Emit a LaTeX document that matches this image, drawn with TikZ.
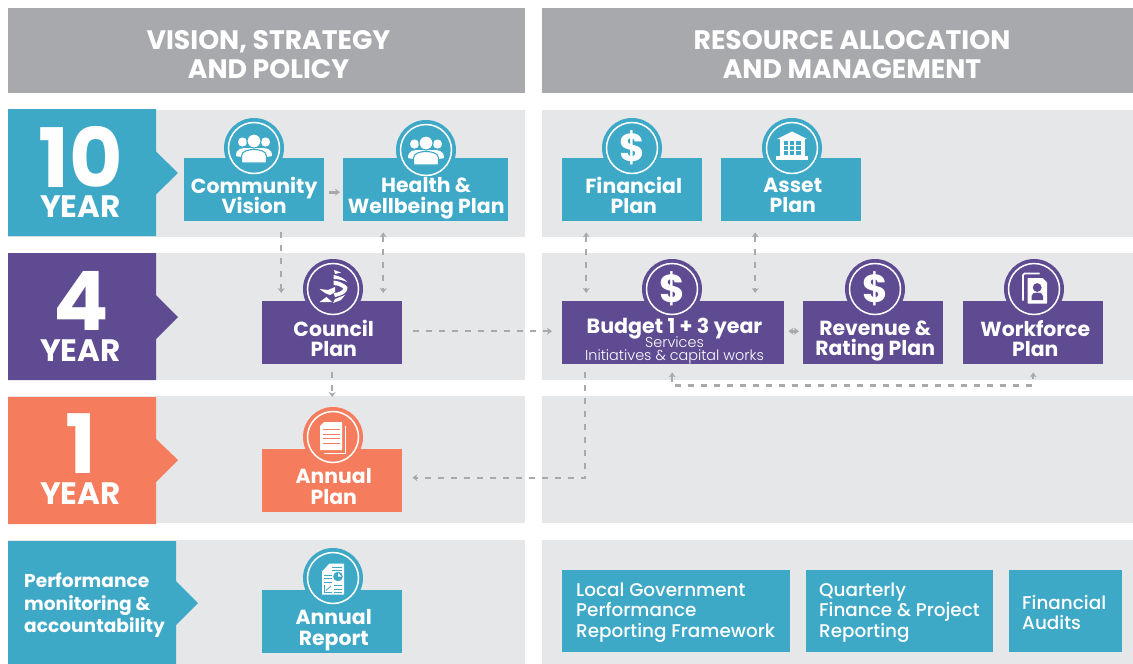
\documentclass[tikz,border=0pt]{standalone}
\usepackage{fontspec}
\setmainfont{Poppins}
\newfontfamily\popmed{Poppins Medium}
\newfontfamily\poplight{Poppins Light}
\usetikzlibrary{arrows.meta,calc}
\definecolor{teal1}{HTML}{3EA8C7}
\definecolor{purp1}{HTML}{5E4B92}
\definecolor{oran1}{HTML}{F57C5C}
\definecolor{panel1}{HTML}{E6E7E9}
\definecolor{head1}{HTML}{A7A9AC}
\definecolor{conn1}{HTML}{A7A9AC}
\newcommand{\fs}[2]{\fontsize{#1}{#2}\selectfont\lineskiplimit=-30pt\relax}
\newcommand{\stt}{\vphantom{Ayg}}
\tikzset{
  x=1pt,y=-1pt,
  panelbox/.style={fill=panel1,draw=none},
  headtxt/.style={text=white,align=center,font=\fs{26.7}{29.5}\bfseries,execute at begin node=\stt,execute at end node=\stt},
  plantxt/.style={text=white,align=center,font=\fs{20.4}{20.5}\bfseries,inner sep=0pt,execute at begin node=\stt,execute at end node=\stt},
  planbox/.style={fill=#1,draw=none,inner sep=0pt,minimum height=63pt},
  bottxt/.style={text=white,align=left,anchor=west,inner sep=0pt,font=\fs{18.4}{20.5}\popmed,execute at begin node=\stt,execute at end node=\stt},
  dashconn/.style={draw=conn1,line width=2.4pt,dash pattern=on 6pt off 7pt},
  solconn/.style={draw=conn1,line width=2.6pt},
  tip/.style={-{Stealth[length=5pt,width=7pt]}},
  tiptip/.style={{Stealth[length=5pt,width=7pt]}-{Stealth[length=5pt,width=7pt]}},
}
% #1 colour #2 name #3 x-left #4 width #5 y-top #6 text #7 circle cx #8 circle cy #9 text dx
\newcommand{\plan}[9]{%
  \fill[#1] (#7,#8) circle[radius=30pt];
  \node[planbox=#1,minimum width=#4pt,anchor=north west] (#2) at (#3,#5) {};
  \node[plantxt] (#2t) at ($(#2.center)+(#9,8.5)$) {#6};
  \draw[white,line width=1.5pt] (#7,#8) circle[radius=25.5pt];
}
\newcommand{\iconpeople}[3]{%
 \begin{scope}[shift={(#1,#2)}]
  \fill[white] (-11.5,-6) circle[radius=4.6pt] (11.5,-6) circle[radius=4.6pt];
  \fill[white] (-18,8) .. controls (-18,0) and (-12,0) .. (-6,0) -- (6,0) .. controls (12,0) and (18,0) .. (18,8) .. controls (12,10) and (-12,10) .. (-18,8) -- cycle;
  \fill[white,draw=#3,line width=1.1pt] (0,-7) circle[radius=7pt];
  \fill[white,draw=#3,line width=1.1pt] (-12.5,15) -- (-12.5,8) .. controls (-12.5,3) and (-5,1.5) .. (0,1.5) .. controls (5,1.5) and (12.5,3) .. (12.5,8) -- (12.5,15) -- cycle;
 \end{scope}}
\newcommand{\icondollar}[2]{%
  \node[text=white,inner sep=0pt,font=\fs{39}{39}\bfseries] at (#1,#2) {\$};}
\begin{document}
\begin{tikzpicture}
\useasboundingbox (0,0) rectangle (1133,664);
\fill[white] (0,0) rectangle (1133,664);
% headers
\fill[head1] (8,8) rectangle (525,93);
\fill[head1] (542,8) rectangle (1133,93);
\node[headtxt] (hl) at (268.5,58) {VISION, STRATEGY\\AND POLICY};
\node[headtxt] (hr) at (852,58) {RESOURCE ALLOCATION\\AND MANAGEMENT};
% panels
\fill[panelbox] (8,110) rectangle (525,237);
\fill[panelbox] (8,253) rectangle (525,380);
\fill[panelbox] (8,396) rectangle (525,523);
\fill[panelbox] (8,540) rectangle (525,664);
\fill[panelbox] (542,110) rectangle (1133,237);
\fill[panelbox] (542,253) rectangle (1133,380);
\fill[panelbox] (542,396) rectangle (1133,523);
\fill[panelbox] (542,540) rectangle (1133,664);
% year tabs
\fill[teal1] (8,109) -- (156,109) -- (156,151.5) -- (178,173) -- (156,194.5) -- (156,236) -- (8,236) -- cycle;
\fill[purp1] (8,253) -- (156,253) -- (156,295) -- (178,317) -- (156,339) -- (156,380) -- (8,380) -- cycle;
\fill[oran1] (8,397) -- (156,397) -- (156,439) -- (178,460) -- (156,482) -- (156,524) -- (8,524) -- cycle;
\fill[teal1] (8,541) -- (176,541) -- (176,581) -- (198,603) -- (176,625) -- (176,664) -- (8,664) -- cycle;
\node[text=white,inner sep=0pt,font=\fs{82}{82}\bfseries] (y10) at (80.5,157) {10};
\node[text=white,inner sep=0pt,font=\fs{31}{31}\bfseries] (y10b) at (80.5,206.5) {YEAR};
\node[text=white,inner sep=0pt,font=\fs{82}{82}\bfseries] (y4) at (81.5,301) {4};
\node[text=white,inner sep=0pt,font=\fs{31}{31}\bfseries] (y4b) at (80.5,350.5) {YEAR};
\node[text=white,inner sep=0pt,font=\fs{82}{82}\bfseries] (y1) at (80.5,444) {1};
\node[text=white,inner sep=0pt,font=\fs{31}{31}\bfseries] (y1b) at (80.5,493.5) {YEAR};
\node[text=white,align=left,anchor=west,inner sep=0pt,font=\fs{18.6}{22.3}\bfseries] (perf) at (24,605.5) {\stt Performance\\monitoring \&\\accountability\stt};
% plan boxes
\plan{teal1}{cv}{184}{140}{158}{Community\\Vision}{254}{148}{0}
\plan{teal1}{hw}{343}{165}{158}{Health \&\\Wellbeing Plan}{426}{150}{0.5}
\plan{teal1}{fin}{562}{140}{158}{Financial\\Plan}{632}{148}{1.5}
\plan{teal1}{asset}{721}{140}{158}{Asset\\Plan}{792}{148}{1.5}
\plan{purp1}{cp}{262}{140}{301}{Council\\Plan}{333}{289}{1.5}
\fill[purp1] (672,289) circle[radius=30pt];
\node[planbox=purp1,minimum width=222pt,anchor=north west] (bud) at (562,301) {};
\draw[white,line width=1.5pt] (672,289) circle[radius=25.5pt];
\node[text=white,inner sep=0pt,font=\fs{20.6}{20}\bfseries] (budt) at (674.5,329) {\stt Budget 1 + 3 year};
\node[text=white,align=center,inner sep=0pt,font=\fs{14.4}{13}\poplight] (budt2) at (674.5,350.5) {\stt Services\\Initiatives \& capital works\stt};
\plan{purp1}{rev}{803}{140}{301}{Revenue \&\\Rating Plan}{875}{289}{2}
\plan{purp1}{wf}{963}{140}{301}{Workforce\\Plan}{1034}{289}{2}
\plan{oran1}{ap}{262}{140}{449}{Annual\\Plan}{333}{437}{1.5}
\plan{teal1}{ar}{262}{140}{590}{Annual\\Report}{333}{578}{1.5}
% bottom boxes
\fill[teal1] (562,570) rectangle (790,652);
\fill[teal1] (806,570) rectangle (993,652);
\fill[teal1] (1009,570) rectangle (1122,652);
\node[bottxt] (b1) at (576,612.5) {Local Government\\Performance\\Reporting Framework};
\node[bottxt] (b2) at (819,612.5) {Quarterly\\Finance \& Project\\Reporting};
\node[bottxt,font=\fs{18.4}{19.5}\popmed] (b3) at (1022,615) {Financial\\Audits};
% icons
\iconpeople{254}{148}{teal1}
\iconpeople{426}{150}{teal1}
\icondollar{632}{148}
\icondollar{672}{289}
\icondollar{875}{289}
% bank
\begin{scope}[shift={(792,147.5)}]
 \fill[white] (-15,-8.5) -- (0,-16) -- (15,-8.5) -- cycle;
 \fill[white] (-12.5,-9) rectangle (12.5,9);
 \fill[white] (-16,8) rectangle (16,12);
 \foreach \a in {-8.5,-2.3,3.9} \foreach \b in {-6.5,-1.5,3.5} \fill[teal1] (\a,\b) rectangle ++(4.6,3.7);
\end{scope}
% council swirl
\begin{scope}[shift={(333,289)}]
 \fill[white] (1,-19) -- (8,-16.5) -- (2,-15) -- cycle;
 \fill[white] (0.5,-14) .. controls (6,-13) and (11,-11) .. (14,-7) .. controls (10,-9) and (5,-10) .. (0.5,-10) -- cycle;
 \fill[white] (0.5,-8.5) .. controls (6,-8) and (12,-5) .. (14.5,-2) .. controls (15,3) and (11,6) .. (2,8) -- (0.5,4) .. controls (6,4) and (11,1) .. (10,-1) .. controls (7,-3) and (4,-4) .. (0.5,-4) -- cycle;
 \fill[white] (-13.5,0) -- (-5,1) -- (2,-2) -- (2,3) -- (-3,6) -- (-8,4) -- cycle;
 \fill[white] (-13.5,13) -- (-6.5,8) -- (-1,13) -- cycle;
 \fill[white] (0,14) -- (2,10) -- (12,6) -- (8,11) -- cycle;
\end{scope}
% workforce icon
\begin{scope}[shift={(1034.5,288.5)}]
 \draw[white,line width=1.6pt,rounded corners=1.5pt] (-11.5,12) -- (-11.5,-15) -- (5,-15);
 \fill[white,rounded corners=0.5pt] (-7,-10.5) -- (8,-10.5) -- (12.5,-6) -- (12.5,15) -- (-7,15) -- cycle;
 \fill[purp1] (2.7,-1) circle[radius=4.4pt];
 \fill[purp1] (-3,11.5) -- (-3,7.5) .. controls (-3,5) and (0,4) .. (2.7,4) .. controls (5.5,4) and (8.5,5) .. (8.5,7.5) -- (8.5,11.5) -- cycle;
\end{scope}
% annual plan icon
\begin{scope}[shift={(333,437)}]
 \draw[white,line width=1pt] (12,-11) -- (12,16) -- (-9,16);
 \fill[white] (-13,-11) -- (-9,-15) -- (9,-15) -- (9,13) -- (-13,13) -- cycle;
 \foreach \b in {-8,-3.5,1,5.5} \fill[oran1] (-10,\b) rectangle (7,\b+1.4);
\end{scope}
% annual report icon
\begin{scope}[shift={(333,578.5)}]
 \fill[white] (-11,-7) -- (-3.5,-15) -- (11,-15) -- (11,16) -- (-11,16) -- cycle;
 \foreach \b in {-12,-8.5} \fill[teal1] (-1,\b) rectangle (9,\b+1.2);
 \foreach \b in {-4,-0.5,3} \fill[teal1] (-9,\b) rectangle (-1,\b+1.2);
 \fill[teal1] (5,-2) circle[radius=4.8pt];
 \fill[white] (5,-2) -- (5,-5.6) -- (8.6,-2) -- cycle;
 \foreach \b in {6.5,10,13} \fill[teal1] (1,\b) rectangle (9,\b+1.2);
 \draw[teal1,line width=1pt] (-9,6.5) -- (-9,14) -- (-1,14);
 \draw[teal1,line width=0.8pt] (-7,12) -- (-2,7.5);
\end{scope}
% connectors
\draw[solconn,tip,shorten <=5pt,shorten >=3pt] ($(cv.east)+(0,2.5)$) -- ($(hw.west)+(0,2.5)$);
\draw[dashconn,tip,shorten <=11pt,shorten >=8pt] ($(cv.south)+(27,0)$) -- ($(cp.north)+(-51,0)$);
\draw[dashconn,tiptip,shorten <=11pt,shorten >=8pt] ($(hw.south)+(-42.5,0)$) -- ($(cp.north)+(51,0)$);
\draw[dashconn,tiptip,shorten <=11pt,shorten >=8pt] ($(fin.south)+(-46,0)$) -- ($(bud.north)+(-87,0)$);
\draw[dashconn,tiptip,shorten <=11pt,shorten >=8pt] ($(asset.south)+(-36,0)$) -- ($(bud.north)+(82,0)$);
\draw[dashconn,tip,shorten <=11pt,shorten >=10pt] ($(cp.east)+(0,-1.5)$) -- ($(bud.west)+(0,-1.5)$);
\draw[solconn,tiptip,shorten <=4pt,shorten >=4pt] ($(bud.east)+(0,-1.5)$) -- ($(rev.west)+(0,-1.5)$);
\draw[dashconn,tip,shorten <=8pt,shorten >=52pt] (cp.south) -- (ap.north);
\draw[dashconn,tip,shorten <=8pt,shorten >=10pt] ($(bud.south)+(-88,0)$) |- ($(ap.east)+(0,-3)$);
\draw[dashconn,tiptip,shorten <=8pt,shorten >=8pt] ($(bud.south)+(-1,0)$) -- ++(0,21) -| (wf.south);
\end{tikzpicture}
\end{document}
